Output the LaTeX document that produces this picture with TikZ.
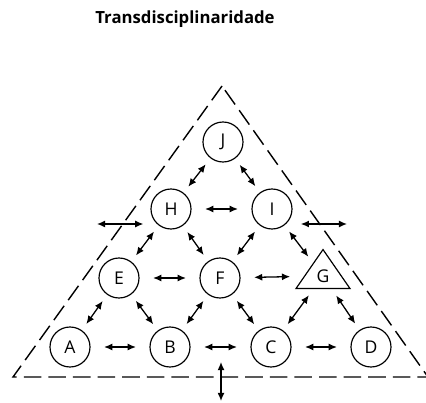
\documentclass[tikz,border=0pt]{standalone}
\usepackage{fontspec}
\setmainfont{Open Sans}
\usepackage{tikz}
\usetikzlibrary{arrows.meta,shapes.geometric}

\begin{document}
\begin{tikzpicture}[x=0.03cm, y=-0.03cm,
  unit/.style={draw, circle, line width=1pt, minimum size=1.2cm, inner sep=0pt, font=\fontsize{15}{18}\selectfont},
  tri/.style={draw, isosceles triangle, shape border rotate=90, isosceles triangle stretches, minimum width=1.62cm, minimum height=1.17cm, inner sep=0pt, line width=1pt, font=\fontsize{15}{18}\selectfont},
  arr/.style={<->, >={Latex[length=7pt,width=6pt]}, line width=1.1pt, shorten <=11.5pt, shorten >=11.5pt},
  diag/.style={arr, shorten <=6.5pt, shorten >=6.5pt},
  frame/.style={dash pattern=on 15pt off 6pt, line width=1.2pt}
]
\useasboundingbox (0,0) rectangle (426,403);
\node[font=\bfseries\fontsize{14.3}{16}\selectfont] (title) at (185,19) {Transdisciplinaridade};
\draw[frame] (222,86) -- (13,377) -- (428,377) -- cycle;

\node[unit] (J) at (223,142) {J};
\node[unit] (H) at (171,209) {H};
\node[unit] (I) at (272,209) {I};
\node[unit] (E) at (119,278) {E};
\node[unit] (F) at (220,278) {F};
\node[tri] (G) at (323,276) {G};
\node[unit] (A) at (70,347) {A};
\node[unit] (B) at (170,347) {B};
\node[unit] (C) at (271,347) {C};
\node[unit] (D) at (371,347) {D};
\coordinate (Lend) at (97,224);
\coordinate (Rend) at (347,224);
\coordinate (Top) at (221,362);
\coordinate (Bot) at (221,401);

\draw[arr] (A) -- (B);
\draw[arr] (B) -- (C);
\draw[arr] (C) -- (D);
\draw[arr] (E) -- (F);
\draw[arr] (F) -- (G);
\draw[arr] (H) -- (I);
\draw[diag] (J) -- (H);
\draw[diag] (J) -- (I);
\draw[diag] (H) -- (E);
\draw[diag] (H) -- (F);
\draw[diag] (I) -- (F);
\draw[diag] (I) -- (G);
\draw[diag] (E) -- (A);
\draw[diag] (E) -- (B);
\draw[diag] (F) -- (B);
\draw[diag] (F) -- (C);
\draw[diag] (G) -- (C);
\draw[diag] (G) -- (D);
\draw[arr, shorten <=0pt, shorten >=6pt] (Lend) -- (Lend -| H.west);
\draw[arr, shorten <=7pt, shorten >=0pt] (I.east |- Rend) -- (Rend);
\draw[arr, shorten <=0pt, shorten >=0pt] (Top) -- (Bot);
\end{tikzpicture}
\end{document}
